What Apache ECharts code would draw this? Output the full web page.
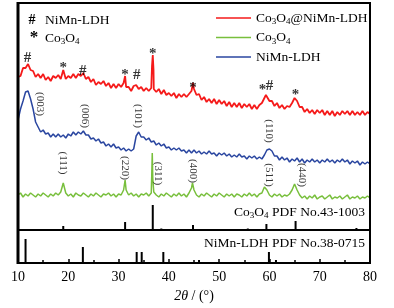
<!DOCTYPE html>
<html>
<head>
<meta charset="utf-8">
<script src="https://cdn.jsdelivr.net/npm/echarts@6/dist/echarts.min.js"></script>
<style>html,body{margin:0;padding:0;background:#fff;}</style>
</head>
<body>
<div id="main" style="width:394px;height:308px;"></div>
<script type="text/javascript">
var FONT = '"Liberation Serif", "Times New Roman", serif';

// intensity (a.u., offset) sampled every 0.5 deg, 10..80
var redGrid = [
  153,154,162,162,166,160,159,153,156,152,
  156,150,153,149,154,152,155,151,160,151,
  154,152,156,152,156,154,157,151,153,148,
  151,145,148,146,149,144,147,142,146,142,
  146,143,147,143,143,139,144,145,141,143,
  139,142,139,142,141,138,141,136,140,135,
  137,134,137,132,136,133,136,133,136,139,
  141,135,136,130,133,128,131,127,131,126,
  130,126,129,124,128,123,127,123,127,122,
  126,123,126,121,125,121,125,127,132,133,
  129,129,124,127,122,125,121,124,123,127,
  132,129,123,123,118,121,117,120,116,120,
  117,120,115,119,115,119,114,118,115,119,
  116,119,115,119,115,118,115,119,115,118,
  116
];
var redPeaks = [[31.3, 154], [36.65, 164], [36.8, 175], [36.95, 160], [44.8, 147], [59.3, 135], [65.2, 134]];

var blueGrid = [
  110,121,129,138,139,131,121,108,103,98,
  100,96,97,93,96,93,96,93,95,92,
  96,94,98,95,98,96,99,95,95,91,
  92,89,91,87,88,84,86,83,86,82,
  83,80,82,79,81,79,81,94,98,93,
  93,90,92,88,89,85,87,84,86,82,
  83,80,82,80,82,79,80,77,80,77,
  80,77,79,76,78,76,79,76,77,74,
  77,75,77,74,76,73,75,73,76,73,
  74,71,74,72,74,71,73,71,75,80,
  81,79,74,74,70,73,70,72,68,71,
  69,72,68,71,67,70,68,71,68,70,
  67,70,68,71,68,70,67,70,68,71,
  68,70,66,69,67,69,65,68,66,68,
  66
];
var bluePeaks = [[59.8, 82]];

var greenGrid = [
  35,37,33,36,34,37,35,33,36,34,
  37,35,33,36,34,37,35,38,47,37,
  34,36,33,37,35,34,37,35,33,36,
  34,37,35,33,36,35,37,34,36,33,
  36,35,40,40,35,37,34,36,33,36,
  35,37,34,37,38,35,33,36,34,37,
  35,33,36,34,37,34,36,33,37,42,
  40,35,33,36,34,37,35,33,36,34,
  37,35,33,36,34,36,33,36,35,33,
  36,34,37,34,36,33,36,37,43,40,
  35,33,36,34,36,33,35,34,36,40,
  46,40,35,32,34,31,34,32,35,31,
  33,34,31,33,35,31,33,32,34,31,
  33,35,31,33,32,34,31,33,32,34,
  32
];
var greenPeaks = [[31.3, 50], [36.6, 55], [36.7, 77], [36.8, 52], [44.7, 47], [59.2, 45], [65.1, 48]];

// reference patterns [2theta, stick height]
var co3o4Pdf = [[19.0, 4], [31.3, 8], [36.8, 25], [38.5, 1.5], [44.8, 5], [55.7, 1.5], [59.4, 6], [65.2, 9], [77.3, 2]];
var nimnPdf = [[11.5, 24], [22.9, 16], [33.6, 11], [34.6, 11], [38.9, 11], [46.0, 3], [59.9, 11], [61.3, 3]];

// peak markers on the composite pattern
var markerPos = [11.9, 19.0, 22.9, 31.3, 33.6, 36.8, 44.8, 58.6, 60.0, 65.2];
var markerY = [172, 162, 159, 154.5, 155, 176, 142, 140, 144, 134.5];
var markerSym = ['#', '*', '#', '*', '#', '*', '*', '*', '#', '*'];

// (hkl) labels
var hklText = ['(003)', '(006)', '(101)', '(110)', '(111)', '(220)', '(311)', '(400)', '(511)', '(440)'];
var hklPos = [14.4, 23.3, 33.75, 59.8, 19.0, 31.3, 37.8, 44.85, 59.8, 66.5];
var hklY = [126, 114, 114, 99, 67, 62, 56.5, 59, 55, 55];

function merge(grid, peaks) {
    var out = [];
    for (var i = 0; i < grid.length; i++) {
        out.push([10 + i * 0.5, grid[i]]);
    }
    out = out.concat(peaks);
    out.sort(function (a, b) { return a[0] - b[0]; });
    return out;
}
function zip(xs, ys) {
    return xs.map(function (x, i) { return [x, ys[i]]; });
}
function subs(s) {
    return s.replace(/Co3O4/g, 'Co{s|3}O{s|4}');
}

var subStyle = { fontSize: 9, lineHeight: 9, verticalAlign: 'bottom', fontFamily: FONT, color: '#000' };

// plot area layout (px)
var L = 18, R = 370, T = 3, MID = 230, B = 263;

// frame drawn as filled strips
function strip(id, x, y, w, h) {
    return { type: 'rect', id: id, z: 10, silent: true, shape: { x: x, y: y, width: w, height: h }, style: { fill: '#000' } };
}

var chart = echarts.init(document.getElementById('main'));

chart.setOption({
    animation: false,
    backgroundColor: '#fff',
    grid: [
        { left: L, right: 394 - R, top: T, height: MID - T },
        { left: L, right: 394 - R, top: MID, height: B - MID }
    ],
    legend: {
        orient: 'vertical',
        left: 211,
        top: 4.5,
        itemGap: 2.5,
        icon: 'rect',
        itemWidth: 35,
        itemHeight: 1.5,
        data: ['Co3O4@NiMn-LDH', 'Co3O4', 'NiMn-LDH'],
        formatter: subs,
        textStyle: {
            fontFamily: FONT, fontSize: 13.5, color: '#000', lineHeight: 17,
            rich: { s: subStyle }
        }
    },
    xAxis: [
        { gridIndex: 0, type: 'value', min: 10, max: 80, show: false },
        {
            gridIndex: 1, type: 'value', min: 10, max: 80, interval: 10,
            axisLine: { onZero: false, lineStyle: { color: '#000', width: 2 } },
            axisTick: { inside: true, length: 4, lineStyle: { color: '#000', width: 1.5 } },
            minorTick: { show: true, splitNumber: 2, length: 3, lineStyle: { color: '#000', width: 1.5 } },
            splitLine: { show: false },
            axisLabel: { color: '#000', fontSize: 14, fontFamily: FONT, margin: 7 },
            name: '{i|2θ} / (°)',
            nameLocation: 'middle',
            nameGap: 26,
            nameTextStyle: {
                color: '#000', fontSize: 14, fontFamily: FONT,
                rich: { i: { fontStyle: 'italic', fontSize: 14, fontFamily: FONT, color: '#000' } }
            }
        }
    ],
    yAxis: [
        { gridIndex: 0, type: 'value', min: 0, max: MID - T, show: false },
        { gridIndex: 1, type: 'value', min: 0, max: B - MID, show: false }
    ],
    graphic: [
        strip('top', L - 1, T - 1, R - L + 2, 2),
        strip('divider', L - 1, MID - 1, R - L + 2, 2),
        strip('bottom', L - 1, B - 1, R - L + 2, 2),
        strip('left', L - 1.5, T - 1, 3, B - T + 2),
        strip('right', R - 1, T - 1, 2, B - T + 2),
        { type: 'text', id: 't1', x: 32, y: 20, style: { text: '#', font: 'bold 14px ' + FONT, fill: '#000', align: 'center', verticalAlign: 'middle' } },
        { type: 'text', id: 't2', x: 45, y: 20, style: { text: 'NiMn-LDH', font: '13.5px ' + FONT, fill: '#000', align: 'left', verticalAlign: 'middle' } },
        { type: 'text', id: 't3', x: 34, y: 38, style: { text: '*', font: 'bold 17px ' + FONT, fill: '#000', align: 'center', verticalAlign: 'middle' } },
        { type: 'text', id: 't4', x: 45, y: 38, style: { text: subs('Co3O4'), font: '13.5px ' + FONT, fill: '#000', align: 'left', verticalAlign: 'middle', lineHeight: 17, rich: { s: subStyle } } },
        { type: 'text', id: 't5', x: 365, y: 212, style: { text: subs('Co3O4') + ' PDF No.43-1003', font: '13.5px ' + FONT, fill: '#000', align: 'right', verticalAlign: 'middle', lineHeight: 17, rich: { s: subStyle } } },
        { type: 'text', id: 't6', x: 365, y: 243, style: { text: 'NiMn-LDH PDF No.38-0715', font: '13.5px ' + FONT, fill: '#000', align: 'right', verticalAlign: 'middle' } }
    ],
    series: [
        {
            name: 'Co3O4@NiMn-LDH', type: 'line', xAxisIndex: 0, yAxisIndex: 0,
            data: merge(redGrid, redPeaks), symbol: 'none', color: '#f51a1a',
            lineStyle: { width: 1.8 }
        },
        {
            name: 'Co3O4', type: 'line', xAxisIndex: 0, yAxisIndex: 0,
            data: merge(greenGrid, greenPeaks), symbol: 'none', color: '#78bf3c',
            lineStyle: { width: 1.5 }
        },
        {
            name: 'NiMn-LDH', type: 'line', xAxisIndex: 0, yAxisIndex: 0,
            data: merge(blueGrid, bluePeaks), symbol: 'none', color: '#2a46a0',
            lineStyle: { width: 1.5 }
        },
        {
            type: 'bar', xAxisIndex: 0, yAxisIndex: 0, data: co3o4Pdf,
            barWidth: 2, itemStyle: { color: '#000' }
        },
        {
            type: 'bar', xAxisIndex: 1, yAxisIndex: 1, data: nimnPdf,
            barWidth: 2, itemStyle: { color: '#000' }
        },
        {
            type: 'scatter', xAxisIndex: 0, yAxisIndex: 0, data: zip(markerPos, markerY),
            symbolSize: 1, itemStyle: { color: 'rgba(0,0,0,0)' }, z: 5,
            label: {
                show: true, position: 'inside', color: '#000', fontSize: 15, fontWeight: 'bold', fontFamily: FONT,
                formatter: function (p) { return markerSym[p.dataIndex]; }
            }
        },
        {
            type: 'scatter', xAxisIndex: 0, yAxisIndex: 0, data: zip(hklPos, hklY),
            symbolSize: 1, itemStyle: { color: 'rgba(0,0,0,0)' }, z: 5,
            label: {
                show: true, position: 'inside', rotate: -90, color: '#000', fontSize: 11, fontFamily: FONT,
                formatter: function (p) { return hklText[p.dataIndex]; }
            }
        }
    ]
});
</script>
</body>
</html>
